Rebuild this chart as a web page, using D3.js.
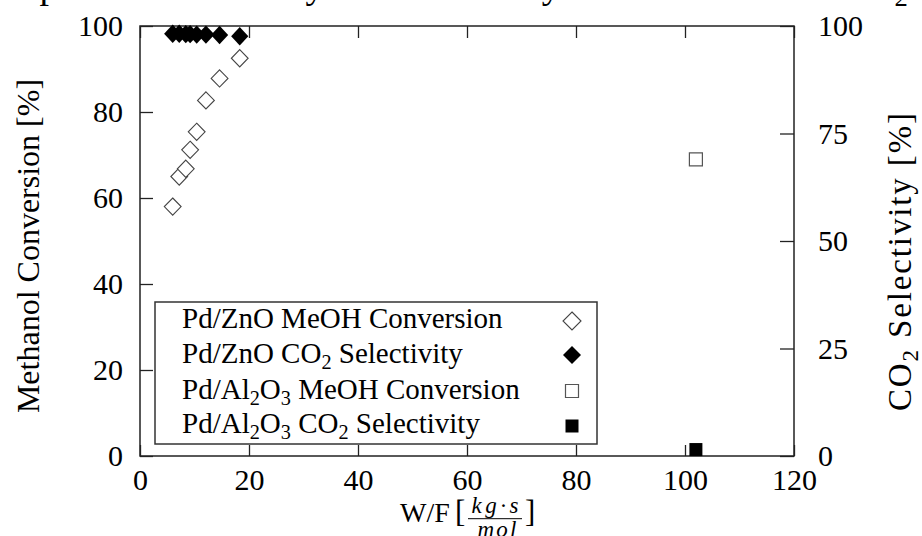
<!DOCTYPE html>
<html><head><meta charset="utf-8">
<script src="https://cdn.jsdelivr.net/npm/d3@7"></script>
<style>
body{margin:0;background:#fff}
svg{display:block}
text{font-family:"Liberation Serif","Times New Roman",serif;fill:#000}
</style>
</head><body>
<svg id="c" width="922" height="536"></svg>
<script>
// ---- data ----
const wfZnO   = [6.0, 7.2, 8.4, 9.2, 10.4, 12.1, 14.6, 18.3];
const convZnO = [58.0, 65.0, 66.8, 71.2, 75.4, 82.7, 87.8, 92.5];
const selZnO  = [98.2, 98.2, 98.1, 98.1, 98.0, 98.0, 97.9, 97.6];
const wfAl    = [102.0];
const convAl  = [69.0];
const selAl   = [1.5];
const xTicks      = [0, 20, 40, 60, 80, 100, 120];
const yLeftTicks  = [0, 20, 40, 60, 80, 100];
const yRightTicks = [0, 25, 50, 75, 100];
const legendLabels = [
  [["Pd/ZnO MeOH Conversion", 0]],
  [["Pd/ZnO CO", 0], ["2", 1], [" Selectivity", 0]],
  [["Pd/Al", 0], ["2", 1], ["O", 0], ["3", 1], [" MeOH Conversion", 0]],
  [["Pd/Al", 0], ["2", 1], ["O", 0], ["3", 1], [" CO", 0], ["2", 1], [" Selectivity", 0]]
];
const titleParts = [["Comparison of Activity and Selectivity of Pd/ZnO and Pd/Al", 0], ["2", 1], ["O", 0], ["3", 1]];

// ---- layout ----
const L = 140, R = 794, T = 26, B = 456;
const svg = d3.select("#c");
const x = d3.scaleLinear().domain([0, 120]).range([L, R]);
const yL = d3.scaleLinear().domain([0, 100]).range([B, T]);
const yR = d3.scaleLinear().domain([0, 100]).range([B, T]);

function addParts(textSel, parts, size) {
  let sub = false;
  parts.forEach(([s, isSub]) => {
    const t = textSel.append("tspan").text(s);
    if (isSub && !sub) { t.attr("font-size", size * 0.7).attr("dy", size * 0.2); sub = true; }
    else if (isSub && sub) { t.attr("font-size", size * 0.7); }
    else if (!isSub && sub) { t.attr("dy", -size * 0.2); sub = false; }
  });
}

// title (cut off at top, as in the reference)
const title = svg.append("text").attr("x", 457).attr("y", -2)
  .attr("text-anchor", "middle").attr("font-size", 38);
addParts(title, titleParts, 38);

// axes
const axStyle = g => {
  g.select(".domain").remove();
  g.selectAll(".tick line").attr("stroke", "#222").attr("stroke-width", 1.3);
  g.selectAll("text").attr("font-family", '"Liberation Serif","Times New Roman",serif').attr("fill", "#000");
};
svg.append("g").attr("transform", `translate(0,${B})`)
  .call(d3.axisBottom(x).tickValues(xTicks).tickSizeInner(-11).tickSizeOuter(0).tickPadding(13))
  .attr("font-size", 30).call(axStyle);
svg.append("g").attr("transform", `translate(0,${T})`)
  .call(d3.axisTop(x).tickValues(xTicks).tickSizeInner(-12).tickSizeOuter(0).tickFormat(""))
  .call(axStyle);
svg.append("g").attr("transform", `translate(${L},0)`)
  .call(d3.axisLeft(yL).tickValues(yLeftTicks).tickSizeInner(-13).tickSizeOuter(0).tickPadding(17))
  .attr("font-size", 30).call(axStyle);
svg.append("g").attr("transform", `translate(${R},0)`)
  .call(d3.axisRight(yR).tickValues(yRightTicks).tickSizeInner(-14).tickSizeOuter(0).tickPadding(24))
  .attr("font-size", 30).call(axStyle);

// frame
svg.append("rect").attr("x", L).attr("y", T).attr("width", R - L).attr("height", B - T)
  .attr("fill", "none").attr("stroke", "#222").attr("stroke-width", 1.5);

// axis labels
svg.append("text").attr("transform", `translate(39,246) rotate(-90)`)
  .attr("text-anchor", "middle").attr("font-size", 32).text("Methanol Conversion [%]");
const rl = svg.append("text").attr("transform", `translate(911,262) rotate(-90)`)
  .attr("text-anchor", "middle").attr("font-size", 33)
  .attr("textLength", 298).attr("lengthAdjust", "spacing");
addParts(rl, [["CO", 0], ["2", 1], [" Selectivity [%]", 0]], 33);

// x label with fraction
const xl = svg.append("g");
xl.append("text").attr("x", 400).attr("y", 522).attr("font-size", 28).text("W/F");
xl.append("text").attr("x", 455).attr("y", 522).attr("font-size", 31).text("[");
xl.append("text").attr("x", 495).attr("y", 513).attr("text-anchor", "middle")
  .attr("font-size", 23).attr("font-style", "italic")
  .attr("textLength", 47).attr("lengthAdjust", "spacing").text("kg·s");
xl.append("line").attr("x1", 468).attr("x2", 522).attr("y1", 518.7).attr("y2", 518.7)
  .attr("stroke", "#000").attr("stroke-width", 1);
xl.append("text").attr("x", 497).attr("y", 537).attr("text-anchor", "middle")
  .attr("font-size", 23).attr("font-style", "italic")
  .attr("textLength", 39).attr("lengthAdjust", "spacing").text("mol");
xl.append("text").attr("x", 525).attr("y", 522).attr("font-size", 31).text("]");

// markers
const diamond = (cx, cy, rx, ry) => `M${cx},${cy - ry}L${cx + rx},${cy}L${cx},${cy + ry}L${cx - rx},${cy}Z`;
const square = (cx, cy, h) => `M${cx - h},${cy - h}H${cx + h}V${cy + h}H${cx - h}Z`;

const plot = svg.append("g");
plot.selectAll(".oc").data(wfZnO.map((w, i) => [w, convZnO[i]])).join("path")
  .attr("d", d => diamond(x(d[0]), yL(d[1]), 8.4, 8.6))
  .attr("fill", "#fff").attr("stroke", "#444").attr("stroke-width", 1.1);
plot.selectAll(".fs").data(wfZnO.map((w, i) => [w, selZnO[i]])).join("path")
  .attr("d", d => diamond(x(d[0]), yR(d[1]), 8.6, 9.2))
  .attr("fill", "#000");
plot.selectAll(".as").data(wfAl.map((w, i) => [w, convAl[i]])).join("path")
  .attr("d", d => square(x(d[0]), yL(d[1]), 6.5))
  .attr("fill", "#fff").attr("stroke", "#555").attr("stroke-width", 1.2);
plot.selectAll(".af").data(wfAl.map((w, i) => [w, selAl[i]])).join("path")
  .attr("d", d => square(x(d[0]), yR(d[1]), 6.5))
  .attr("fill", "#000");

// legend
const lg = svg.append("g");
lg.append("rect").attr("x", 155).attr("y", 302).attr("width", 442).attr("height", 142)
  .attr("fill", "#fff").attr("stroke", "#333").attr("stroke-width", 1.5);
const rowY = [321, 355, 391, 426];
const baseY = [328, 363, 399, 433];
legendLabels.forEach((parts, i) => {
  const t = lg.append("text").attr("x", 182).attr("y", baseY[i]).attr("font-size", 29);
  addParts(t, parts, 29);
});
const sx = 572;
lg.append("path").attr("d", diamond(sx, rowY[0], 9, 9)).attr("fill", "#fff").attr("stroke", "#444").attr("stroke-width", 1.1);
lg.append("path").attr("d", diamond(sx, rowY[1], 9, 9)).attr("fill", "#000");
lg.append("path").attr("d", square(sx, rowY[2], 6.5)).attr("fill", "#fff").attr("stroke", "#555").attr("stroke-width", 1.2);
lg.append("path").attr("d", square(sx, rowY[3], 6.5)).attr("fill", "#000");
</script>
</body></html>
